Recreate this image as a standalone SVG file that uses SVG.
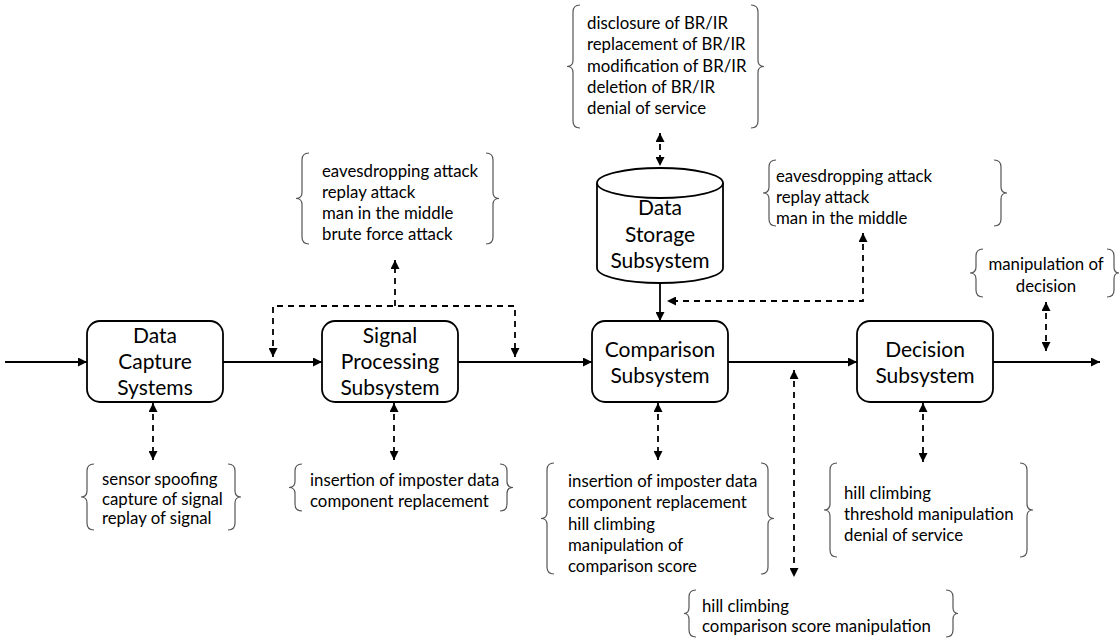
<svg xmlns="http://www.w3.org/2000/svg" width="1120" height="638" viewBox="0 0 1120 638">
<style>
.box{fill:#fff;stroke:#000;stroke-width:1.8}
.nt{font-family:Lato,"Liberation Sans",sans-serif;font-size:21px;fill:#000;text-anchor:middle}
.bt{font-family:Lato,"Liberation Sans",sans-serif;font-size:16.8px;fill:#000}
.br{fill:none;stroke:#555;stroke-width:1.2}
.sl{fill:none;stroke:#000;stroke-width:1.8}
.dl{fill:none;stroke:#000;stroke-width:1.8;stroke-dasharray:6 5}
</style>
<defs>
<marker id="ah" viewBox="0 0 10 10" refX="10" refY="5" markerWidth="9" markerHeight="9" markerUnits="userSpaceOnUse" orient="auto-start-reverse">
<path d="M0,0 L10,5 L0,10 z" fill="#000" stroke="none"/>
</marker>
</defs>
<rect width="1120" height="638" fill="#fff"/>
<g id="connectors">
<path class="sl" d="M5,362 H87" marker-end="url(#ah)"/>
<path class="sl" d="M223,362 H322" marker-end="url(#ah)"/>
<path class="sl" d="M458,362 H592" marker-end="url(#ah)"/>
<path class="sl" d="M728,362 H857" marker-end="url(#ah)"/>
<path class="sl" d="M993,362 H1100" marker-end="url(#ah)"/>
<path class="sl" d="M660,284 V321" marker-end="url(#ah)"/>
<path class="dl" d="M273,357 V306 H515 V357" marker-start="url(#ah)" marker-end="url(#ah)"/>
<path class="dl" d="M395,306 V260" marker-end="url(#ah)"/>
<path class="dl" d="M660,133 V166" marker-start="url(#ah)" marker-end="url(#ah)"/>
<path class="dl" d="M863,233 V301 H667" marker-start="url(#ah)" marker-end="url(#ah)"/>
<path class="dl" d="M1046,302 V351" marker-start="url(#ah)" marker-end="url(#ah)"/>
<path class="dl" d="M153,403 V460" marker-start="url(#ah)" marker-end="url(#ah)"/>
<path class="dl" d="M394,403 V460" marker-start="url(#ah)" marker-end="url(#ah)"/>
<path class="dl" d="M658,403 V460" marker-start="url(#ah)" marker-end="url(#ah)"/>
<path class="dl" d="M794,370 V577" marker-start="url(#ah)" marker-end="url(#ah)"/>
<path class="dl" d="M923,403 V462" marker-start="url(#ah)" marker-end="url(#ah)"/>
</g>
<g id="data-capture">
<rect class="box" x="87" y="321" width="136" height="81" rx="13"/>
<text class="nt" x="155" y="343">Data</text>
<text class="nt" x="155" y="369">Capture</text>
<text class="nt" x="155" y="395">Systems</text>
</g>
<g id="signal-processing">
<rect class="box" x="322" y="321" width="136" height="81" rx="13"/>
<text class="nt" x="390" y="343">Signal</text>
<text class="nt" x="390" y="369">Processing</text>
<text class="nt" x="390" y="395">Subsystem</text>
</g>
<g id="comparison">
<rect class="box" x="592" y="321" width="136" height="81" rx="13"/>
<text class="nt" x="660" y="357">Comparison</text>
<text class="nt" x="660" y="383">Subsystem</text>
</g>
<g id="decision">
<rect class="box" x="857" y="321" width="136" height="81" rx="13"/>
<text class="nt" x="925" y="357">Decision</text>
<text class="nt" x="925" y="383">Subsystem</text>
</g>
<g id="data-storage">
<path class="box" d="M597,183 V268 A63,15 0 0 0 723,268 V183"/>
<ellipse class="box" cx="660" cy="183" rx="63" ry="15"/>
<text class="nt" x="660" y="215">Data</text>
<text class="nt" x="660" y="242">Storage</text>
<text class="nt" x="660" y="268">Subsystem</text>
</g>
<g id="threats-storage">
<path class="br" d="M580,5 Q573,5 573,12 V60.5 Q573,66.5 567,66.5 Q573,66.5 573,72.5 V121 Q573,128 580,128"/>
<path class="br" d="M751,5 Q758,5 758,12 V60.5 Q758,66.5 764,66.5 Q758,66.5 758,72.5 V121 Q758,128 751,128"/>
<text class="bt" x="587" y="29">disclosure of BR/IR</text>
<text class="bt" x="587" y="50">replacement of BR/IR</text>
<text class="bt" x="587" y="72">modification of BR/IR</text>
<text class="bt" x="587" y="93">deletion of BR/IR</text>
<text class="bt" x="587" y="114">denial of service</text>
</g>
<g id="threats-transmission-1">
<path class="br" d="M309,153 Q302,153 302,160 V192.5 Q302,198.5 296,198.5 Q302,198.5 302,204.5 V237 Q302,244 309,244"/>
<path class="br" d="M486,153 Q493,153 493,160 V192.5 Q493,198.5 499,198.5 Q493,198.5 493,204.5 V237 Q493,244 486,244"/>
<text class="bt" x="322" y="177">eavesdropping attack</text>
<text class="bt" x="322" y="198">replay attack</text>
<text class="bt" x="322" y="219">man in the middle</text>
<text class="bt" x="322" y="240">brute force attack</text>
</g>
<g id="threats-transmission-2">
<path class="br" d="M776,160 Q769,160 769,167 V187 Q769,193 763,193 Q769,193 769,199 V219 Q769,226 776,226"/>
<path class="br" d="M994,160 Q1001,160 1001,167 V187 Q1001,193 1007,193 Q1001,193 1001,199 V219 Q1001,226 994,226"/>
<text class="bt" x="776" y="182">eavesdropping attack</text>
<text class="bt" x="776" y="203">replay attack</text>
<text class="bt" x="776" y="224">man in the middle</text>
</g>
<g id="threats-decision-output">
<path class="br" d="M983,249 Q976,249 976,256 V267 Q976,273 970,273 Q976,273 976,279 V290 Q976,297 983,297"/>
<path class="br" d="M1107,249 Q1114,249 1114,256 V267 Q1114,273 1119,273 Q1114,273 1114,279 V290 Q1114,297 1107,297"/>
<text class="bt" x="1046" y="270" text-anchor="middle">manipulation of</text>
<text class="bt" x="1046" y="292" text-anchor="middle">decision</text>
</g>
<g id="threats-capture">
<path class="br" d="M94,464 Q87,464 87,471 V491 Q87,497 81,497 Q87,497 87,503 V523 Q87,530 94,530"/>
<path class="br" d="M228,464 Q235,464 235,471 V491 Q235,497 241,497 Q235,497 235,503 V523 Q235,530 228,530"/>
<text class="bt" x="102" y="485">sensor spoofing</text>
<text class="bt" x="102" y="505">capture of signal</text>
<text class="bt" x="102" y="524">replay of signal</text>
</g>
<g id="threats-signal">
<path class="br" d="M302,464 Q295,464 295,471 V481.5 Q295,487.5 289,487.5 Q295,487.5 295,493.5 V504 Q295,511 302,511"/>
<path class="br" d="M500,464 Q507,464 507,471 V481.5 Q507,487.5 513,487.5 Q507,487.5 507,493.5 V504 Q507,511 500,511"/>
<text class="bt" x="310" y="486">insertion of imposter data</text>
<text class="bt" x="310" y="507">component replacement</text>
</g>
<g id="threats-comparison">
<path class="br" d="M554,463 Q547,463 547,470 V512.5 Q547,518.5 541,518.5 Q547,518.5 547,524.5 V567 Q547,574 554,574"/>
<path class="br" d="M761,463 Q768,463 768,470 V512.5 Q768,518.5 774,518.5 Q768,518.5 768,524.5 V567 Q768,574 761,574"/>
<text class="bt" x="568" y="487">insertion of imposter data</text>
<text class="bt" x="568" y="508">component replacement</text>
<text class="bt" x="568" y="530">hill climbing</text>
<text class="bt" x="568" y="551">manipulation of</text>
<text class="bt" x="568" y="572">comparison score</text>
</g>
<g id="threats-score">
<path class="br" d="M696,590 Q689,590 689,597 V607.5 Q689,613.5 684,613.5 Q689,613.5 689,619.5 V630 Q689,637 696,637"/>
<path class="br" d="M946,590 Q953,590 953,597 V607.5 Q953,613.5 958,613.5 Q953,613.5 953,619.5 V630 Q953,637 946,637"/>
<text class="bt" x="702" y="612">hill climbing</text>
<text class="bt" x="702" y="632">comparison score manipulation</text>
</g>
<g id="threats-decision">
<path class="br" d="M837,463 Q830,463 830,470 V504 Q830,510 824,510 Q830,510 830,516 V550 Q830,557 837,557"/>
<path class="br" d="M1020,463 Q1027,463 1027,470 V504 Q1027,510 1033,510 Q1027,510 1027,516 V550 Q1027,557 1020,557"/>
<text class="bt" x="844" y="499">hill climbing</text>
<text class="bt" x="844" y="520">threshold manipulation</text>
<text class="bt" x="844" y="541">denial of service</text>
</g>
</svg>
